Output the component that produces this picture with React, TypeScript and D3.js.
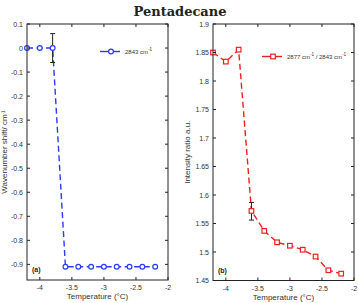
import React from "react";
import * as d3 from "d3";

const temps = [-4.2, -4.0, -3.8, -3.6, -3.4, -3.2, -3.0, -2.8, -2.6, -2.4, -2.2];
const shiftValues = [0, 0, 0, -0.91, -0.91, -0.91, -0.91, -0.91, -0.91, -0.91, -0.91];
const ratioValues = [1.85, 1.834, 1.855, 1.572, 1.537, 1.517, 1.511, 1.504, 1.492, 1.468, 1.462];
const shiftErr = { x: -3.8, lo: -0.06, hi: 0.06 };
const ratioErr = { x: -3.6, lo: 1.556, hi: 1.587 };
const xTicks = [-4, -3.5, -3, -2.5, -2];
const shiftTicks = [0.1, 0, -0.1, -0.2, -0.3, -0.4, -0.5, -0.6, -0.7, -0.8, -0.9];
const ratioTicks = [1.9, 1.85, 1.8, 1.75, 1.7, 1.65, 1.6, 1.55, 1.5, 1.45];

const FONT = "Liberation Sans, Arial, sans-serif";

type PanelProps = {
  x0: number; x1: number; y0: number; y1: number;
  yDomain: [number, number];
  values: number[];
  yTicks: number[];
  color: string;
  marker: "circle" | "square";
  err: { x: number; lo: number; hi: number };
  ylabel: React.ReactNode;
  ylabelX: number;
  legendX: number; legendY: number;
  legendText: React.ReactNode;
  tag: string;
};

function Panel(p: PanelProps) {
  const x = d3.scaleLinear().domain([-4.2, -2]).range([p.x0, p.x1]);
  const y = d3.scaleLinear().domain(p.yDomain).range([p.y1, p.y0]);
  const line = d3.line<number>().x((_, i) => x(temps[i])).y((d) => y(d));
  const tl = 3;
  const fmt = (v: number) => String(v).replace("-", "-");
  return (
    <g>
      <path d={line(p.values) || ""} fill="none" stroke={p.color} strokeWidth={1.4} strokeDasharray="6,3.5" />
      {/* error bar */}
      <g stroke="#222" strokeWidth={1}>
        <line x1={x(p.err.x)} x2={x(p.err.x)} y1={y(p.err.lo)} y2={y(p.err.hi)} />
        <line x1={x(p.err.x) - 2.5} x2={x(p.err.x) + 2.5} y1={y(p.err.lo)} y2={y(p.err.lo)} />
        <line x1={x(p.err.x) - 2.5} x2={x(p.err.x) + 2.5} y1={y(p.err.hi)} y2={y(p.err.hi)} />
      </g>
      {p.values.map((v, i) =>
        p.marker === "circle" ? (
          <circle key={i} cx={x(temps[i])} cy={y(v)} r={2.4} fill="white" stroke={p.color} strokeWidth={1.2} />
        ) : (
          <rect key={i} x={x(temps[i]) - 2.3} y={y(v) - 2.3} width={4.6} height={4.6} fill="white" stroke={p.color} strokeWidth={1.2} />
        )
      )}
      {/* box */}
      <rect x={p.x0} y={p.y0} width={p.x1 - p.x0} height={p.y1 - p.y0} fill="none" stroke="#222" strokeWidth={1} />
      {xTicks.map((t) => (
        <g key={"x" + t}>
          <line x1={x(t)} x2={x(t)} y1={p.y1} y2={p.y1 - tl} stroke="#222" />
          <line x1={x(t)} x2={x(t)} y1={p.y0} y2={p.y0 + tl} stroke="#222" />
          <text x={x(t)} y={p.y1 + 10} fontSize={7} fontFamily={FONT} fill="#333" textAnchor="middle">{fmt(t)}</text>
        </g>
      ))}
      {p.yTicks.map((t) => (
        <g key={"y" + t}>
          <line x1={p.x0} x2={p.x0 + tl} y1={y(t)} y2={y(t)} stroke="#222" />
          <line x1={p.x1} x2={p.x1 - tl} y1={y(t)} y2={y(t)} stroke="#222" />
          <text x={p.x0 - 4} y={y(t) + 2.5} fontSize={7} fontFamily={FONT} fill="#333" textAnchor="end">{fmt(t)}</text>
        </g>
      ))}
      <text x={(p.x0 + p.x1) / 2} y={p.y1 + 19} fontSize={8} fontFamily={FONT} fill="#333" textAnchor="middle">Temperature (°C)</text>
      <text transform={`translate(${p.ylabelX},${(p.y0 + p.y1) / 2}) rotate(-90)`} fontSize={8} fontFamily={FONT} fill="#333" textAnchor="middle">{p.ylabel}</text>
      <text x={p.x0 + 5} y={p.y1 - 8} fontSize={7} fontFamily={FONT} fill="#222" fontWeight="bold">{p.tag}</text>
      {/* legend */}
      <line x1={p.legendX} x2={p.legendX + 20} y1={p.legendY} y2={p.legendY} stroke={p.color} strokeWidth={1.4} />
      {p.marker === "circle" ? (
        <circle cx={p.legendX + 11} cy={p.legendY} r={2.4} fill="white" stroke={p.color} strokeWidth={1.2} />
      ) : (
        <rect x={p.legendX + 11 - 2.3} y={p.legendY - 2.3} width={4.6} height={4.6} fill="white" stroke={p.color} strokeWidth={1.2} />
      )}
      <text x={p.legendX + 25} y={p.legendY + 2.3} fontSize={6} fontFamily={FONT} fill="#333">{p.legendText}</text>
    </g>
  );
}

const sup = (s: string) => <tspan dy={-2.5} fontSize={4.5}>{s}</tspan>;

export default function App() {
  return (
    <svg width={359} height={303} style={{ position: "absolute", left: 0, top: 0, background: "white" }}>
      <text x={180} y={16} textAnchor="middle" fontSize={13} fontWeight="bold" fontFamily="DejaVu Serif, Liberation Serif, serif" fill="#222">Pentadecane</text>
      <Panel
        x0={27} x1={168} y0={24} y1={280}
        yDomain={[-0.965, 0.1]}
        values={shiftValues}
        yTicks={shiftTicks}
        color="#2a3cf5"
        marker="circle"
        err={shiftErr}
        ylabel={<>Wavenumber shift/ cm{sup("-1")}</>}
        ylabelX={7}
        legendX={100} legendY={51.5}
        legendText={<>2843 cm{sup("-1")}</>}
        tag="(a)"
      />
      <Panel
        x0={213} x1={354} y0={24} y1={280.5}
        yDomain={[1.45, 1.9]}
        values={ratioValues}
        yTicks={ratioTicks}
        color="#f02020"
        marker="square"
        err={ratioErr}
        ylabel="Intensity ratio a.u."
        ylabelX={190}
        legendX={262} legendY={56.5}
        legendText={<>2877 cm{sup("-1")}<tspan dy={2.5}> / 2843 cm</tspan>{sup("-1")}</>}
        tag="(b)"
      />
    </svg>
  );
}
